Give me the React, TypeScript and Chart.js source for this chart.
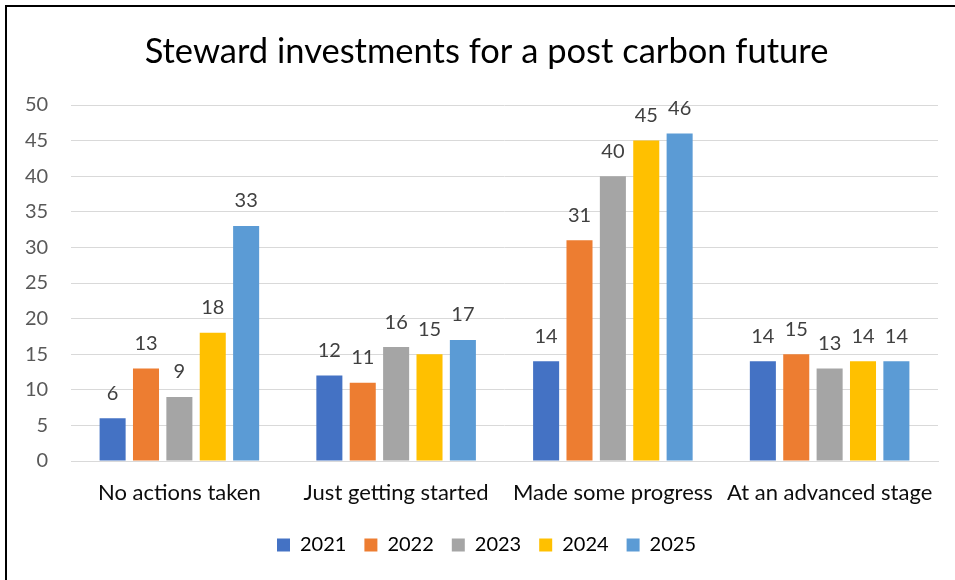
import React, { useEffect, useRef } from "react";
import { Chart, registerables } from "chart.js";

Chart.register(...registerables);

const categories = ["No actions taken", "Just getting started", "Made some progress", "At an advanced stage"];
const seriesNames = ["2021", "2022", "2023", "2024", "2025"];
const values2021 = [6, 12, 14, 14];
const values2022 = [13, 11, 31, 15];
const values2023 = [9, 16, 40, 13];
const values2024 = [18, 15, 45, 14];
const values2025 = [33, 17, 46, 14];
const seriesColors = ["#4472C4", "#ED7D31", "#A5A5A5", "#FFC000", "#5B9BD5"];
const titleText = "Steward investments for a post carbon future";

const FONT = "Lato, 'Noto Sans', sans-serif";

const borderPlugin = {
  id: "frameBorder",
  afterDraw(chart: any) {
    const ctx = chart.ctx;
    ctx.save();
    ctx.fillStyle = "#000";
    ctx.fillRect(5, 5, 2, chart.height);
    ctx.fillRect(5, 5, chart.width, 2);
    ctx.restore();
  },
};

const valueLabels = {
  id: "valueLabels",
  afterDatasetsDraw(chart: any) {
    const ctx = chart.ctx;
    ctx.save();
    ctx.font = `20px ${FONT}`;
    ctx.fillStyle = "#404040";
    ctx.textAlign = "center";
    ctx.textBaseline = "middle";
    chart.data.datasets.forEach((ds: any, i: number) => {
      const meta = chart.getDatasetMeta(i);
      meta.data.forEach((bar: any, j: number) => {
        ctx.fillText(String(ds.data[j]), bar.x, bar.y - 25);
      });
    });
    ctx.restore();
  },
};

export default function App() {
  const ref = useRef<HTMLCanvasElement>(null);
  useEffect(() => {
    if (!ref.current) return;
    const all = [values2021, values2022, values2023, values2024, values2025];
    const chart = new Chart(ref.current, {
      type: "bar",
      data: {
        labels: categories,
        datasets: all.map((d, i) => ({
          label: seriesNames[i],
          data: d,
          backgroundColor: seriesColors[i],
          borderWidth: 0,
          categoryPercentage: 0.77,
          barPercentage: 0.78,
        })),
      },
      options: {
        responsive: false,
        animation: false,
        layout: { padding: { left: 35, right: 17, top: 0, bottom: 15 } },
        plugins: {
          title: {
            display: true,
            text: titleText,
            color: "#000",
            font: { family: FONT, size: 34.5, weight: "normal" },
            padding: { top: 31, bottom: 32.6 },
          },
          legend: {
            display: true,
            position: "bottom",
            labels: {
              boxWidth: 13,
              boxHeight: 13,
              padding: 18,
              color: "#000",
              font: { family: FONT, size: 20 },
            },
          },
          tooltip: { enabled: false },
        },
        scales: {
          x: {
            grid: { display: false, drawTicks: false },
            border: { display: true, color: "#d9d9d9", width: 1 },
            ticks: { color: "#0d0d0d", font: { family: FONT, size: 22 }, padding: 19 },
            afterFit: (s: any) => {
              s.height = 56;
            },
          },
          y: {
            min: 0,
            max: 50,
            ticks: {
              stepSize: 5,
              color: "#595959",
              font: { family: FONT, size: 20 },
              mirror: true,
              crossAlign: "far",
              padding: -46,
            },
            grid: { color: "#d9d9d9", lineWidth: 1, drawTicks: false },
            border: { display: false },
            afterFit: (s: any) => {
              s.width = 36;
            },
          },
        },
      },
      plugins: [borderPlugin, valueLabels],
    });
    return () => chart.destroy();
  }, []);
  return (
    <div style={{ position: "fixed", left: 0, top: 0, width: 955, height: 580, background: "#fff" }}>
      <canvas ref={ref} width={955} height={580} />
    </div>
  );
}
